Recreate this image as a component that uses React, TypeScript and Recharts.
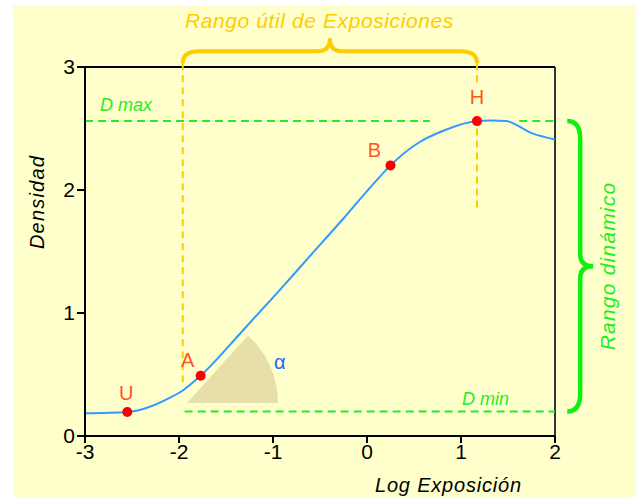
import React from "react";
import {
    ComposedChart,
    Line,
    Scatter,
    XAxis,
    YAxis,
    ReferenceLine,
    LabelList,
} from "recharts";

// curva característica (log exposición -> densidad)
const curveX = [-3, -2.8, -2.55, -2.34, -2.1, -1.96, -1.77, -1.33, -0.96, -0.61, -0.26, 0.08, 0.25, 0.54, 0.84, 1.17, 1.32, 1.48, 1.76, 2];
const curveY = [0.185, 0.188, 0.195, 0.23, 0.31, 0.37, 0.49, 0.85, 1.16, 1.46, 1.76, 2.06, 2.2, 2.38, 2.49, 2.56, 2.565, 2.56, 2.46, 2.41];

const pointNames = ["U", "A", "B", "H"];
const pointX = [-2.55, -1.77, 0.25, 1.17];
const pointY = [0.195, 0.49, 2.2, 2.56];

const xTicks = [-3, -2, -1, 0, 1, 2];
const yTicks = [0, 1, 2, 3];

const dMax = 2.56;
const dMin = 0.2;
const rangeStart = -1.96;
const rangeEnd = 1.17;

const curve = curveX.map((x, i) => ({ x, y: curveY[i] }));
const points = pointNames.map((name, i) => ({ name, x: pointX[i], y: pointY[i] }));

// label offsets in px (dx, dy) relative to the dot
const labelOffset: Record<string, [number, number]> = {
    U: [-1, -19],
    A: [-13, -16],
    B: [-16, -15],
    H: [0, -24],
};

const font = "'Liberation Sans', Arial, sans-serif";
const ORANGE = "#FFCC00";
const GREEN = "#22EE22";

const PointLabel = (props: any) => {
    const { x, y, width, height, value } = props;
    const [dx, dy] = labelOffset[value] || [0, -20];
    return (
        <text
            x={x + width / 2 + dx}
            y={y + height / 2 + dy}
            textAnchor="middle"
            dominantBaseline="central"
            fill="#FF5522"
            fontSize={20}
            fontFamily={font}
        >
            {value}
        </text>
    );
};

const TopBrace = (p: any) => {
    const { x1, y1, x2 } = p;
    const yb = y1 - 12;
    const yt = y1 - 25;
    const xm = (x1 + x2) / 2;
    const d = `M${x1},${y1} Q${x1},${yb} ${x1 + 16},${yb} L${xm - 12},${yb} Q${xm},${yb} ${xm},${yt} Q${xm},${yb} ${xm + 12},${yb} L${x2 - 16},${yb} Q${x2},${yb} ${x2},${y1}`;
    return <path d={d} fill="none" stroke={ORANGE} strokeWidth={4} />;
};

const RightBrace = (p: any) => {
    const { x1, y1, y2 } = p;
    const top = Math.min(y1, y2);
    const bot = Math.max(y1, y2);
    const xb = x1 + 13;
    const xt = x1 + 26;
    const ym = (top + bot) / 2;
    const d = `M${x1},${top} Q${xb},${top} ${xb},${top + 18} L${xb},${ym - 12} Q${xb},${ym} ${xt},${ym} Q${xb},${ym} ${xb},${ym + 12} L${xb},${bot - 18} Q${xb},${bot} ${x1},${bot}`;
    return <path d={d} fill="none" stroke="#11EE11" strokeWidth={4.5} />;
};

const AngleSector = (p: any) => {
    const { x1, y1, x2 } = p;
    const r = x2 - x1;
    const a = (48 * Math.PI) / 180;
    const ex = x1 + r * Math.cos(a);
    const ey = y1 - r * Math.sin(a);
    return <path d={`M${x1},${y1} L${x2},${y1} A${r},${r} 0 0 0 ${ex},${ey} Z`} fill="#E6DFA8" stroke="none" />;
};

const abs = (left: number, top: number, extra: React.CSSProperties = {}): React.CSSProperties => ({
    position: "absolute",
    left,
    top,
    fontFamily: font,
    whiteSpace: "nowrap",
    lineHeight: 1,
    ...extra,
});

export default function App() {
    return (
        <div style={{ position: "fixed", left: 0, top: 0, width: 636, height: 497, background: "#fff", overflow: "hidden" }}>
            <div style={{ position: "absolute", left: 13, top: 5, width: 623, height: 492, background: "#FFFFCC" }} />
            <div style={{ position: "absolute", left: 0, top: 0 }}>
                <ComposedChart width={636} height={497} data={curve} margin={{ top: 67, right: 81, bottom: 31, left: 45 }}>
                    <XAxis
                        dataKey="x"
                        type="number"
                        domain={[-3, 2]}
                        ticks={xTicks}
                        height={30}
                        tickSize={7}
                        tickMargin={1}
                        stroke="#000"
                        strokeWidth={2}
                        tick={{ fill: "#000", fontSize: 21, fontFamily: font }}
                        allowDataOverflow
                    />
                    <YAxis
                        type="number"
                        domain={[0, 3]}
                        ticks={yTicks}
                        width={40}
                        tickSize={8}
                        tickMargin={2}
                        stroke="#000"
                        strokeWidth={2}
                        tick={{ fill: "#000", fontSize: 21, fontFamily: font }}
                        allowDataOverflow
                    />
                    <ReferenceLine y={3} stroke="#000" strokeWidth={2} />
                    <ReferenceLine x={2} stroke="#333" strokeWidth={2} />
                    <ReferenceLine
                        segment={[{ x: -1.915, y: 0.268 }, { x: -0.947, y: 0.268 }]}
                        ifOverflow="visible"
                        shape={AngleSector}
                    />
                    <ReferenceLine segment={[{ x: -3, y: dMax }, { x: 0.67, y: dMax }]} stroke={GREEN} strokeWidth={2} strokeDasharray="8 5" ifOverflow="visible" />
                    <ReferenceLine segment={[{ x: 1.62, y: dMax }, { x: 2, y: dMax }]} stroke={GREEN} strokeWidth={2} strokeDasharray="8 5" ifOverflow="visible" />
                    <ReferenceLine segment={[{ x: -1.94, y: dMin }, { x: 2, y: dMin }]} stroke={GREEN} strokeWidth={2} strokeDasharray="8 5" ifOverflow="visible" />
                    <ReferenceLine segment={[{ x: rangeStart, y: 3.03 }, { x: rangeStart, y: 0.43 }]} stroke={ORANGE} strokeWidth={2} strokeDasharray="7 5" ifOverflow="visible" />
                    <ReferenceLine segment={[{ x: rangeEnd, y: 3.03 }, { x: rangeEnd, y: 2.85 }]} stroke={ORANGE} strokeWidth={2} strokeDasharray="7 5" ifOverflow="visible" />
                    <ReferenceLine segment={[{ x: rangeEnd, y: 2.5 }, { x: rangeEnd, y: 1.84 }]} stroke={ORANGE} strokeWidth={2} strokeDasharray="7 5" ifOverflow="visible" />
                    <ReferenceLine segment={[{ x: rangeStart, y: 3.03 }, { x: rangeEnd, y: 3.03 }]} ifOverflow="visible" shape={TopBrace} />
                    <ReferenceLine segment={[{ x: 2.13, y: dMax }, { x: 2.13, y: dMin }]} ifOverflow="visible" shape={RightBrace} />
                    <Line
                        type="monotone"
                        dataKey="y"
                        stroke="#3399FF"
                        strokeWidth={2}
                        dot={false}
                        activeDot={false}
                        isAnimationActive={false}
                    />
                    <Scatter
                        data={points}
                        dataKey="y"
                        isAnimationActive={false}
                        shape={(s: any) => <circle cx={s.cx} cy={s.cy} r={5} fill="#FF0000" />}
                    >
                        <LabelList dataKey="name" content={PointLabel} />
                    </Scatter>
                </ComposedChart>
            </div>
            <div style={abs(185, 10, { color: ORANGE, fontSize: 21, fontStyle: "italic", letterSpacing: 0.6 })}>Rango útil de Exposiciones</div>
            <div style={abs(100, 96, { color: GREEN, fontSize: 18, fontStyle: "italic" })}>D max</div>
            <div style={abs(462, 390, { color: GREEN, fontSize: 18, fontStyle: "italic" })}>D min</div>
            <div style={abs(274, 352, { color: "#2266FF", fontSize: 20 })}>α</div>
            <div style={abs(375, 475, { color: "#000", fontSize: 20, fontStyle: "italic", letterSpacing: 0.8 })}>Log Exposición</div>
            <div
                style={abs(37, 202, {
                    color: "#000",
                    fontSize: 20,
                    fontStyle: "italic",
                    letterSpacing: 1.2,
                    transform: "translate(-50%, -50%) rotate(-90deg)",
                })}
            >
                Densidad
            </div>
            <div
                style={abs(607, 266, {
                    color: GREEN,
                    fontSize: 21,
                    fontStyle: "italic",
                    letterSpacing: 1.2,
                    transform: "translate(-50%, -50%) rotate(-90deg)",
                })}
            >
                Rango dinámico
            </div>
        </div>
    );
}
